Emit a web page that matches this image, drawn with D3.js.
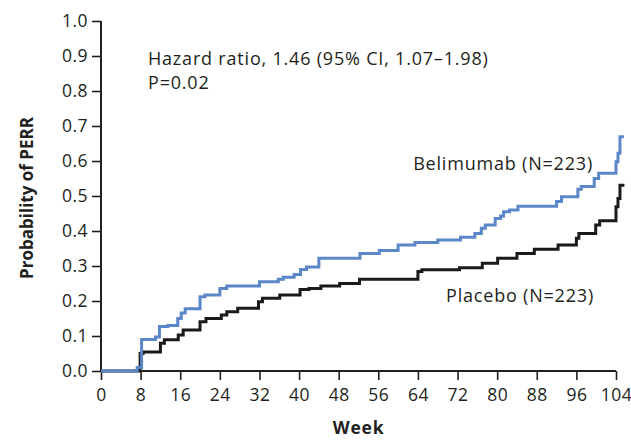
<!DOCTYPE html>
<html>
<head>
<meta charset="utf-8">
<script src="https://cdn.jsdelivr.net/npm/d3@7"></script>
<style>
  body { margin: 0; background: #fff; }
  text { font-family: "Open Sans", "DejaVu Sans", sans-serif; fill: #231f20; }
</style>
</head>
<body>
<svg class="chart"></svg>
<script>
// change points of the Kaplan-Meier style curves: week, cumulative probability
const belimumabWeeks = [0, 7.3, 8.2, 11.0, 11.8, 13.5, 15.5, 16.2, 17.0, 20.0, 21.0, 24.0, 25.4, 32.0, 35.8, 36.8, 39.0, 40.3, 41.5, 44.0, 52.3, 56.2, 60.0, 63.4, 68.0, 72.6, 75.5, 76.8, 77.6, 79.6, 80.7, 81.3, 82.5, 84.2, 92.0, 93.0, 96.3, 97.0, 99.6, 100.5, 104.0, 104.4, 104.8, 105.6]
const belimumabProb = [0, 0.01, 0.09, 0.097, 0.127, 0.13, 0.15, 0.166, 0.178, 0.212, 0.217, 0.236, 0.243, 0.255, 0.262, 0.268, 0.276, 0.29, 0.297, 0.322, 0.336, 0.344, 0.36, 0.367, 0.374, 0.382, 0.393, 0.408, 0.417, 0.436, 0.443, 0.455, 0.46, 0.471, 0.484, 0.498, 0.519, 0.527, 0.55, 0.565, 0.598, 0.622, 0.669, 0.669]

const placeboWeeks = [0, 7.9, 8.5, 12.0, 12.8, 15.6, 16.6, 20.0, 21.2, 24.3, 25.4, 27.6, 31.8, 32.6, 36.1, 40.2, 42.0, 44.4, 48.2, 52.2, 64.0, 64.8, 72.4, 77.0, 80.1, 84.0, 87.5, 92.3, 96.0, 96.5, 99.9, 100.7, 104.0, 104.4, 104.8, 105.7]
const placeboProb = [0, 0.05, 0.054, 0.079, 0.089, 0.103, 0.117, 0.141, 0.15, 0.16, 0.169, 0.179, 0.198, 0.208, 0.217, 0.233, 0.236, 0.243, 0.25, 0.262, 0.284, 0.289, 0.295, 0.308, 0.322, 0.336, 0.348, 0.36, 0.379, 0.393, 0.417, 0.429, 0.469, 0.493, 0.531, 0.531]

const xTicks = [0, 8, 16, 24, 32, 40, 48, 56, 64, 72, 80, 88, 96, 104]
const yTicks = [0, 0.1, 0.2, 0.3, 0.4, 0.5, 0.6, 0.7, 0.8, 0.9, 1.0]

const width = 631
const height = 440
const margin = { top: 21, right: 15, bottom: 69, left: 101 }

const svg = d3.select('.chart')
  .attr('width', width)
  .attr('height', height)

const x = d3.scaleLinear().domain([0, 104]).range([margin.left, 616])
const y = d3.scaleLinear().domain([0, 1]).range([height - margin.bottom, margin.top])

// axes
const xAxis = svg.append('g')
  .attr('transform', `translate(0,${y(0)})`)
  .call(d3.axisBottom(x).tickValues(xTicks).tickSize(9).tickPadding(4))
const yAxis = svg.append('g')
  .attr('transform', `translate(${x(0)},0)`)
  .call(d3.axisLeft(y).tickValues(yTicks).tickSize(9).tickPadding(4).tickFormat(d3.format('.1f')))

for (const ax of [xAxis, yAxis]) {
  ax.select('.domain').attr('stroke', '#231f20').attr('stroke-width', 2)
  ax.selectAll('.tick line').attr('stroke', '#231f20').attr('stroke-width', 1.6)
  ax.selectAll('.tick text')
    .attr('font-size', 17.5)
    .attr('letter-spacing', 0.5)
    .attr('font-family', '"Open Sans", sans-serif')
    .attr('fill', '#231f20')
}
xAxis.selectAll('.tick text').attr('dy', '0.95em')
// keep the domain flush with the ends, no outer ticks beyond
xAxis.select('.domain').attr('d', `M${x(0)},0H${x(104)}`)
yAxis.select('.domain').attr('d', `M0,${y(0)}V${y(1)}`)

// curves
const line = d3.line()
  .x(d => x(d[0]))
  .y(d => y(d[1]))
  .curve(d3.curveStepAfter)

svg.append('path')
  .datum(placeboWeeks.map((w, i) => [w, placeboProb[i]]))
  .attr('d', line)
  .attr('fill', 'none')
  .attr('stroke', '#1a1a1a')
  .attr('stroke-width', 3)

svg.append('path')
  .datum(belimumabWeeks.map((w, i) => [w, belimumabProb[i]]))
  .attr('d', line)
  .attr('fill', 'none')
  .attr('stroke', '#5b86c8')
  .attr('stroke-width', 3)

// labels
function note (tx, ty, str, anchor) {
  svg.append('text')
    .attr('x', tx).attr('y', ty)
    .attr('text-anchor', anchor)
    .attr('font-size', 18)
    .attr('letter-spacing', 0.8)
    .text(str)
}
note(148, 65, 'Hazard ratio, 1.46 (95% CI, 1.07–1.98)', 'start')
note(148, 89, 'P=0.02', 'start')
note(593, 170, 'Belimumab (N=223)', 'end')
note(594, 302, 'Placebo (N=223)', 'end')

svg.append('text')
  .attr('x', (x(0) + x(104)) / 2).attr('y', 434)
  .attr('text-anchor', 'middle')
  .attr('font-size', 17.5)
  .attr('letter-spacing', 0.8)
  .attr('font-weight', 'bold')
  .text('Week')

svg.append('text')
  .attr('transform', `translate(33,198) rotate(-90)`)
  .attr('text-anchor', 'middle')
  .attr('font-size', 17)
  .attr('font-weight', 'bold')
  .text('Probability of PERR')
</script>
</body>
</html>
